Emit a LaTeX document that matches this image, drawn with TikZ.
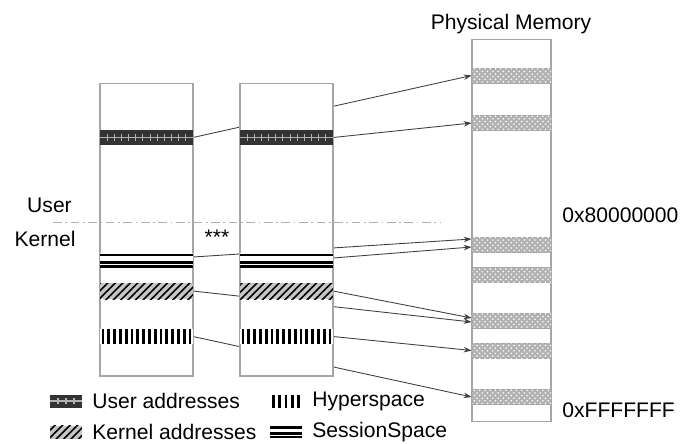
\documentclass[tikz,border=0pt]{standalone}
\usepackage{fontspec}
\setmainfont{Liberation Sans}
\usetikzlibrary{arrows.meta,positioning,patterns,patterns.meta,calc,backgrounds}
\tikzset{
    memcol/.style={rectangle,draw=gray!70,line width=0.6pt,fill=white,inner sep=0pt,minimum width=1.86cm,minimum height=5.86cm},
    physcol/.style={rectangle,draw=gray!70,line width=0.6pt,fill=white,inner sep=0pt,minimum width=1.58cm,minimum height=7.66cm},
    bandbox/.style={rectangle,inner sep=0pt,outer sep=0pt,minimum width=1.86cm,minimum height=0.3cm},
    userband/.style={bandbox,fill=black!80,path picture={
        \draw[gray!60,line width=0.7pt] (path picture bounding box.west) -- (path picture bounding box.east);
        \foreach \k in {1,...,#1}
            \draw[gray!60,line width=0.6pt,shorten <=2pt,shorten >=2pt]
                ($(path picture bounding box.north west)!{\k/(#1+1)}!(path picture bounding box.north east)$) --
                ($(path picture bounding box.south west)!{\k/(#1+1)}!(path picture bounding box.south east)$);
    }},
    userband/.default=12,
    sessband/.style={bandbox,fill=white,path picture={
        \foreach \fr in {0.15,0.62,0.9}
            \draw[line width=1.4pt]
                ($(path picture bounding box.north west)!\fr!(path picture bounding box.south west)$) --
                ($(path picture bounding box.north east)!\fr!(path picture bounding box.south east)$);
    }},
    kernband/.style={bandbox,minimum height=0.32cm,fill=gray!45,postaction={pattern={Lines[angle=45,distance=3pt,line width=0.9pt]}}},
    hyperband/.style={bandbox,fill=white,path picture={
        \foreach \k in {0,...,#1}
            \draw[line width=1.6pt]
                ($(path picture bounding box.north west)!{(\k+0.5)/(#1+1)}!(path picture bounding box.north east)$) --
                ($(path picture bounding box.south west)!{(\k+0.5)/(#1+1)}!(path picture bounding box.south east)$);
    }},
    hyperband/.default=15,
    physband/.style={rectangle,draw=gray!70,inner sep=0pt,minimum width=1.58cm,minimum height=0.3cm,fill=gray!60,postaction={pattern=crosshatch dots,pattern color=white}},
    legbox/.style={minimum width=0.64cm,minimum height=0.26cm},
    lbl/.style={font=\fontsize{12}{14}\selectfont,inner sep=0pt},
    linkline/.style={-{Stealth[length=1.6mm,width=1.1mm]},draw=gray!50!black,line width=0.5pt},
    dividerline/.style={draw=gray!60,line width=0.5pt,dash pattern=on 5pt off 2pt on 1pt off 2pt}
}

\begin{document}
\begin{tikzpicture}[x=0.02cm,y=-0.02cm]
    \useasboundingbox (0,0) rectangle (682,443);
    % virtual address spaces
    \node[memcol] (col1) at (146.5,229.5) {};
    \node[memcol] (col2) at (286.5,229.5) {};
    \node[userband] (ua1) at (146.5,137.5) {};
    \node[userband] (ua2) at (286.5,137.5) {};
    \node[sessband] (ss1) at (146.5,260.5) {};
    \node[sessband] (ss2) at (286.5,260.5) {};
    \node[kernband] (ka1) at (146.5,291) {};
    \node[kernband] (ka2) at (286.5,291) {};
    \node[hyperband] (hs1) at (146.5,336.5) {};
    \node[hyperband] (hs2) at (286.5,336.5) {};
    \node[lbl] (more) at (217,237.6) {***};
    % physical memory
    \node[physcol] (phys) at (511.5,230.5) {};
    \node[lbl] (physlbl) at (511,24.5) {Physical Memory};
    \node[physband] (pb1) at (511.5,75.5) {};
    \node[physband] (pb2) at (511.5,123) {};
    \node[physband] (pb3) at (511.5,245) {};
    \node[physband] (pb4) at (511.5,275) {};
    \node[physband] (pb5) at (511.5,321) {};
    \node[physband] (pb6) at (511.5,350.5) {};
    \node[physband] (pb7) at (511.5,397) {};
    \node[lbl,anchor=west] (addrmid) at (562,215.5) {0x80000000};
    \node[lbl,anchor=west] (addrtop) at (562,410.5) {0xFFFFFFF};
    % user / kernel split
    \node[lbl] (userlbl) at (49.5,205.5) {User};
    \node[lbl] (kernlbl) at (45,239) {Kernel};
    \coordinate (divl) at (53,222);
    \coordinate (divr) at (440,222);
    \draw[dividerline] (divl) -- (divr);
    % mappings
    \begin{scope}[on background layer]
        \draw[linkline] (ua1.east) -- (pb1.west);
        \draw[linkline] (ua2.east) -- (pb2.west);
        \draw[linkline] ([yshift=0.07cm]ss1.east) -- ([yshift=0.12cm]pb3.west);
        \draw[linkline] ([yshift=0.05cm]ss2.east) -- ([yshift=-0.04cm]pb3.west);
        \draw[linkline] (ka1.east) -- ([yshift=-0.02cm]pb5.west);
        \draw[linkline] (ka2.east) -- ([yshift=0.06cm]pb5.west);
        \draw[linkline] (hs2.east) -- (pb6.west);
        \draw[linkline] (hs1.east) -- (pb7.west);
    \end{scope}
    % legend
    \node[userband=3,legbox] (lgua) at (66,401) {};
    \node[lbl,right=2mm of lgua] (lgual) {User addresses};
    \node[hyperband=4,legbox] (lghs) at (286,401) {};
    \node[lbl,right=2mm of lghs] (lghsl) {Hyperspace};
    \node[kernband,legbox] (lgka) at (66,432) {};
    \node[lbl,right=2mm of lgka] (lgkal) {Kernel addresses};
    \node[sessband,legbox] (lgss) at (286,432) {};
    \node[lbl,right=2mm of lgss] (lgssl) {SessionSpace};
\end{tikzpicture}
\end{document}
